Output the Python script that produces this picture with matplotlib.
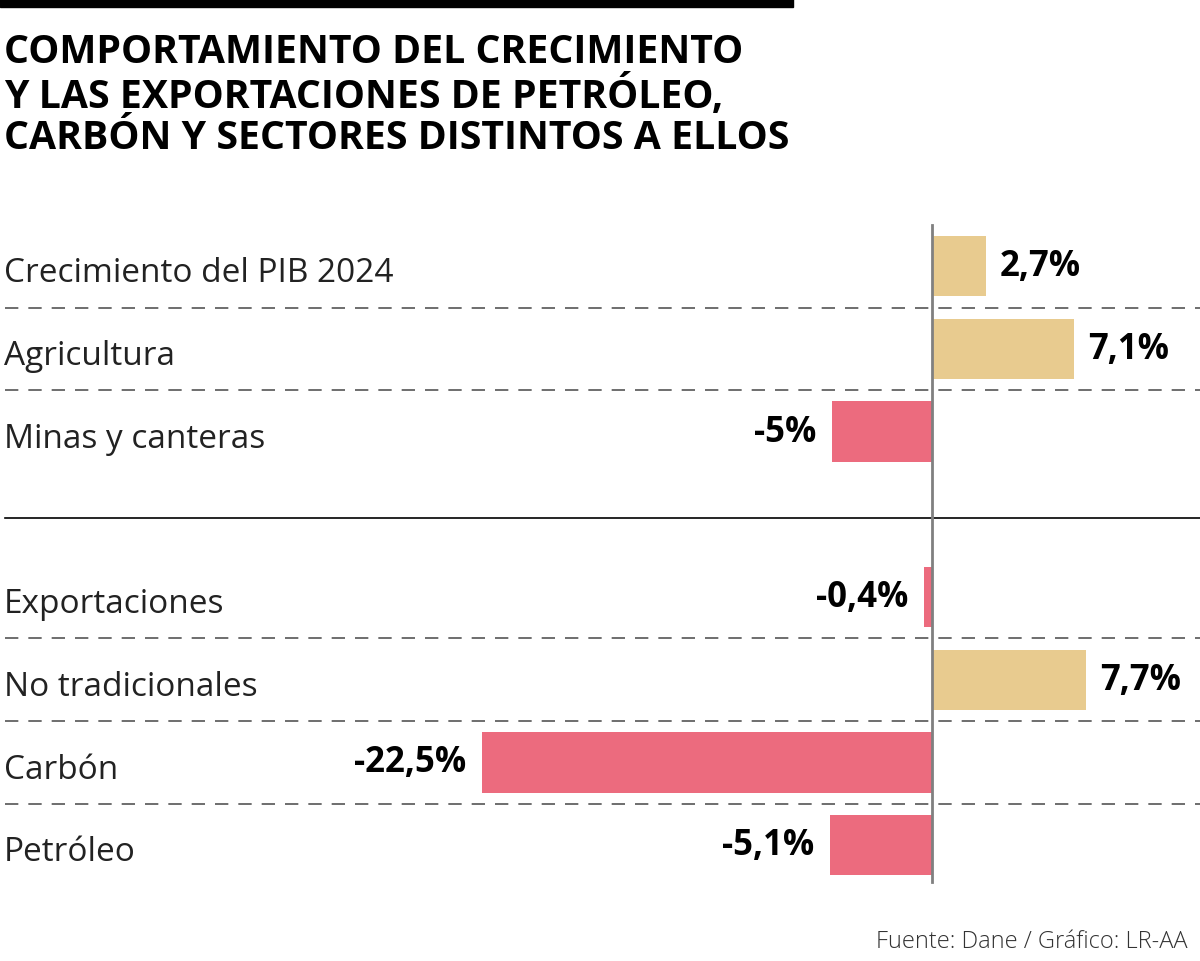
import matplotlib.pyplot as plt
from matplotlib.patches import Rectangle

# Data
categories = ["Crecimiento del PIB 2024", "Agricultura", "Minas y canteras",
              "Exportaciones", "No tradicionales", "Carbón", "Petróleo"]
values = [2.7, 7.1, -5.0, -0.4, 7.7, -22.5, -5.1]
value_labels = ["2,7%", "7,1%", "-5%", "-0,4%", "7,7%", "-22,5%", "-5,1%"]
rows = [0, 1, 2, 4, 5, 6, 7]   # row 3 is the gap between the two blocks

title = ("COMPORTAMIENTO DEL CRECIMIENTO\n"
         "Y LAS EXPORTACIONES DE PETRÓLEO,\n"
         "CARBÓN Y SECTORES DISTINTOS A ELLOS")
source = "Fuente: Dane / Gráfico: LR-AA"

pos_color = "#E8CB8F"
neg_color = "#EC6B7E"

plt.rcParams['font.family'] = ['Open Sans', 'DejaVu Sans']

fig = plt.figure(figsize=(12, 9.62), dpi=100)
ax = fig.add_axes([0, 0, 1, 1])
ax.set_xlim(-46.6, 13.4)
ax.set_ylim(8.40, -3.23)
ax.axis('off')

colors = [pos_color if v >= 0 else neg_color for v in values]
ax.barh(rows, values, height=0.73, color=colors, zorder=2)

# zero line
ax.plot([0, 0], [-0.5, 7.45], color="#808080", lw=2, zorder=3)

# separators
for y in [0.5, 1.5, 4.5, 5.5, 6.5]:
    ax.plot([-46.35, 13.4], [y, y], color="#555555", lw=1.2,
            dashes=(8, 6), zorder=1)
ax.plot([-46.35, 13.4], [3.05, 3.05], color="black", lw=1.2, zorder=1)

for r, cat, v, lab in zip(rows, categories, values, value_labels):
    ax.text(-46.4, r + 0.08, cat, ha='left', va='center', fontsize=24,
            color="#222222")
    if v >= 0:
        ax.text(v + 0.7, r, lab, ha='left', va='center', fontsize=25,
                fontweight='bold', color="black")
    else:
        ax.text(v - 0.8, r, lab, ha='right', va='center', fontsize=25,
                fontweight='bold', color="black")

# top black bar
fig.patches.append(Rectangle((0, 1 - 8 / 962), 793 / 1200, 8 / 962,
                             transform=fig.transFigure, color="black"))

fig.text(4 / 1200, 1 - 33 / 962, title, ha='left', va='top', fontsize=28.3,
         fontweight='bold', linespacing=1.08, color="black")

fig.text(1188 / 1200, 1 - 942 / 962, source, ha='right', va='center',
         fontsize=17, fontweight='light', color="#333333")

fig.savefig("out.png", dpi=100)
